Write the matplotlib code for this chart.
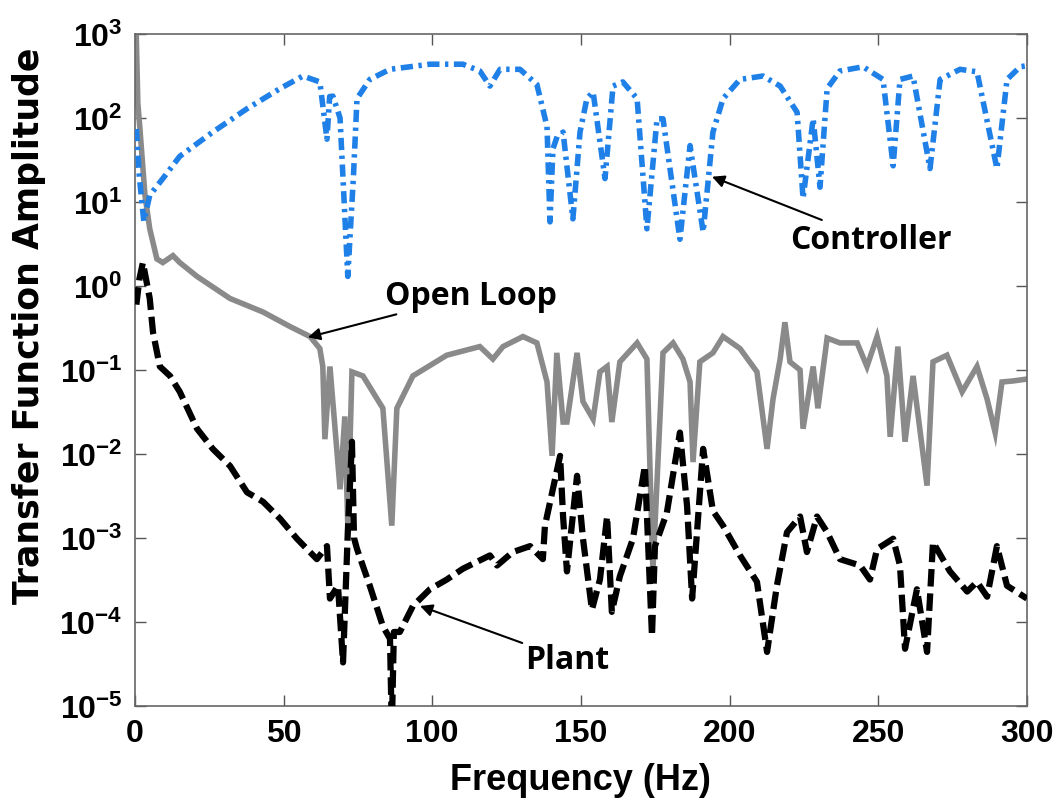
import numpy as np
import matplotlib.pyplot as plt
from matplotlib.ticker import FixedLocator, FuncFormatter, NullLocator

plt.rcParams['font.family'] = ['Liberation Sans', 'DejaVu Sans']
plt.rcParams['mathtext.fontset'] = 'custom'
plt.rcParams['mathtext.rm'] = 'Liberation Sans:bold'
plt.rcParams['mathtext.bf'] = 'Liberation Sans:bold'

# controller (blue, dash-dot)
ctrl_f = [0.5, 1.5, 3.0, 5.0, 9.4, 15.1, 26.2, 37.7, 48.8, 56.5, 62.2, 64.6, 65.5, 66.6, 69.0, 71.6, 73.5,
          74.7, 79.0, 85.8, 99.2, 110.3, 116.0, 119.4, 122.8, 129.5, 135.2, 138.6, 139.6, 140.6, 142.0,
          144.0, 147.3, 149.7, 152.0, 154.1, 158.1, 160.8, 164.1, 168.9, 172.2, 175.6, 177.6, 183.3,
          186.7, 191.1, 194.4, 197.8, 203.5, 211.2, 217.0, 222.7, 224.7, 228.1, 230.4, 232.8, 237.1,
          244.9, 251.6, 255.0, 257.3, 261.7, 267.4, 270.8, 277.5, 283.2, 289.9, 293.3, 297.7, 300.0]
ctrl_amp = [74, 20, 5.9, 12, 19, 35, 68, 129, 224, 316, 269, 56, 180, 182, 100, 1.3, 20,
            170, 288, 380, 437, 437, 363, 240, 380, 380, 251, 79, 5.8, 43, 60,
            68, 6.3, 68, 170, 204, 19, 240, 269, 170, 4.8, 98, 98, 3.6,
            47, 4.4, 68, 170, 288, 316, 240, 117, 11, 98, 15, 224, 363,
            407, 288, 27, 288, 316, 25, 288, 380, 355, 25, 288, 407, 420]

# open loop (gray, solid)
ol_f = [0.4, 1.0, 1.7, 3.4, 5.0, 7.4, 9.4, 12.8, 15.1, 20.9, 32.0, 43.1, 52.1, 58.9, 62.2, 63.2, 63.9,
        65.6, 69.0, 70.6, 71.6, 73.0, 76.7, 83.4, 86.4, 88.1, 93.5, 104.9, 116.0, 120.4, 123.8, 130.5,
        135.2, 138.6, 140.3, 141.9, 144.0, 145.3, 148.7, 150.7, 154.1, 156.4, 158.8, 160.4, 163.1,
        168.9, 172.2, 174.2, 177.6, 181.0, 184.3, 186.7, 187.7, 190.0, 194.4, 197.8, 203.5, 209.2,
        212.6, 214.6, 217.0, 218.6, 220.3, 223.7, 224.7, 228.1, 229.7, 232.8, 237.1, 242.9, 246.2,
        249.6, 252.9, 254.0, 256.6, 259.0, 261.7, 266.4, 268.4, 273.1, 278.2, 283.2, 286.6, 289.3,
        291.6, 295.3, 300.0]
ol_amp = [1200, 150, 74, 12, 4.8, 2.1, 1.9, 2.3, 1.9, 1.3, 0.71, 0.49, 0.33, 0.25, 0.18, 0.11, 0.015,
          0.11, 0.0038, 0.028, 0.0014, 0.095, 0.085, 0.035, 0.0014, 0.035, 0.085, 0.15, 0.19, 0.135, 0.19, 0.25,
          0.21, 0.072, 0.0095, 0.16, 0.024, 0.024, 0.16, 0.042, 0.026, 0.095, 0.11, 0.024, 0.125,
          0.21, 0.135, 0.0004, 0.16, 0.21, 0.135, 0.072, 0.008, 0.125, 0.16, 0.25, 0.18, 0.095,
          0.0115, 0.045, 0.135, 0.37, 0.125, 0.10, 0.020, 0.11, 0.035, 0.24, 0.21, 0.21, 0.11,
          0.25, 0.085, 0.016, 0.19, 0.014, 0.085, 0.0042, 0.125, 0.15, 0.055, 0.11, 0.045, 0.018,
          0.072, 0.074, 0.078]

# plant (black, dashed)
plant_f = [0.5, 1.5, 2.7, 5.0, 6.1, 8.4, 11.8, 15.1, 20.9, 26.2, 32.0, 37.7, 43.1, 48.8, 54.5, 61.2,
           64.6, 65.6, 68.3, 70.0, 71.6, 73.0, 73.7, 74.7, 79.0, 83.4, 85.8, 86.4, 87.1, 89.1, 93.5,
           99.2, 104.9, 110.3, 119.4, 121.8, 127.1, 132.9, 137.2, 137.9, 143.0, 144.0, 145.3, 148.7,
           150.7, 153.7, 156.4, 158.8, 160.4, 163.1, 167.5, 171.5, 173.9, 174.9, 178.9, 183.3, 185.7,
           187.4, 191.1, 194.4, 197.8, 203.5, 209.2, 212.6, 215.9, 219.3, 223.7, 226.0, 229.4, 232.8,
           237.1, 243.9, 247.2, 249.6, 255.0, 257.3, 259.0, 263.0, 266.4, 268.4, 274.1, 279.9, 283.2,
           286.6, 289.9, 293.3, 300.0]
plant_amp = [0.6, 1.2, 1.9, 0.71, 0.28, 0.11, 0.085, 0.055, 0.020, 0.0115, 0.0072, 0.0035, 0.0027, 0.0017,
             0.00098, 0.00056, 0.0008, 0.00019, 0.00027, 0.000033, 0.00117, 0.014, 0.001, 0.00074,
             0.00027, 0.000089, 0.000063, 0.000005, 0.000076, 0.000076, 0.000155, 0.000245, 0.00032,
             0.00043, 0.00062, 0.00047, 0.00068, 0.0008, 0.00056, 0.0014, 0.0095, 0.0018, 0.0004,
             0.0055, 0.00098, 0.00014, 0.00032, 0.0018, 0.000132, 0.00035, 0.00098, 0.0072, 0.000068,
             0.0008, 0.002, 0.018, 0.0024, 0.00019, 0.0115, 0.0021, 0.0014, 0.00062, 0.0003, 0.000044,
             0.00027, 0.00117, 0.0018, 0.00068, 0.0018, 0.00117, 0.00056, 0.00047, 0.00032, 0.00074,
             0.00098, 0.00047, 0.000048, 0.000245, 0.000044, 0.00089, 0.0004, 0.00023, 0.0003, 0.0002,
             0.0008, 0.00027, 0.00019]

y_ticks = [1e-5, 1e-4, 1e-3, 1e-2, 1e-1, 1e0, 1e1, 1e2, 1e3]
x_ticks = [0, 50, 100, 150, 200, 250, 300]

fig = plt.figure(figsize=(10.62, 8.03), dpi=100)
ax = fig.add_axes([0.127, 0.1196, 0.840, 0.8368])

ax.plot(ol_f, ol_amp, color='#8a8a8a', lw=4, solid_joinstyle='miter', zorder=2)
ax.plot(plant_f, plant_amp, color='black', lw=4.5, dashes=(2.8, 1.1), zorder=3)
ax.plot(ctrl_f, ctrl_amp, color='#1f80e8', lw=4, dashes=(2.2, 1.0, 0.6, 1.0), zorder=3)

ax.set_yscale('log')
ax.set_xlim(0, 300)
ax.set_ylim(1e-5, 1e3)
ax.yaxis.set_major_locator(FixedLocator(y_ticks))
ax.yaxis.set_minor_locator(NullLocator())
ax.yaxis.set_major_formatter(FuncFormatter(lambda v, p: r'$\mathbf{10^{%d}}$' % round(np.log10(v))))
ax.set_xticks(x_ticks)
ax.tick_params(direction='in', length=8, width=1, color='#555555', top=True, right=True,
               labelsize=23, pad=9)
for lab in ax.get_xticklabels():
    lab.set_fontweight('bold')
for s in ax.spines.values():
    s.set_color('#666666')
    s.set_linewidth(1.2)

ax.set_xlabel('Frequency (Hz)', family=['Liberation Sans'], fontsize=26, fontweight='bold', labelpad=10)
ax.set_ylabel('Transfer Function Amplitude', family=['DejaVu Sans'], fontsize=25, fontweight='bold',
              va='center', ha='center')
ax.yaxis.set_label_coords(-0.119, 0.567)

afont = dict(family=['Open Sans', 'DejaVu Sans'], fontsize=23, fontweight='bold', va='center', ha='left')
aprops = dict(arrowstyle='-|>', color='black', lw=1.5, mutation_scale=18, shrinkA=0, shrinkB=0)
ax.annotate('Controller', xy=(194.1, 20), xytext=(220.3, 3.6), arrowprops=aprops, **afont)
ax.annotate('Open Loop', xy=(58.2, 0.245), xytext=(84.0, 0.78), arrowprops=aprops, **afont)
ax.annotate('Plant', xy=(95.9, 1.55e-4), xytext=(131.2, 3.6e-5), arrowprops=aprops, **afont)

fig.savefig('out.png', dpi=100)
